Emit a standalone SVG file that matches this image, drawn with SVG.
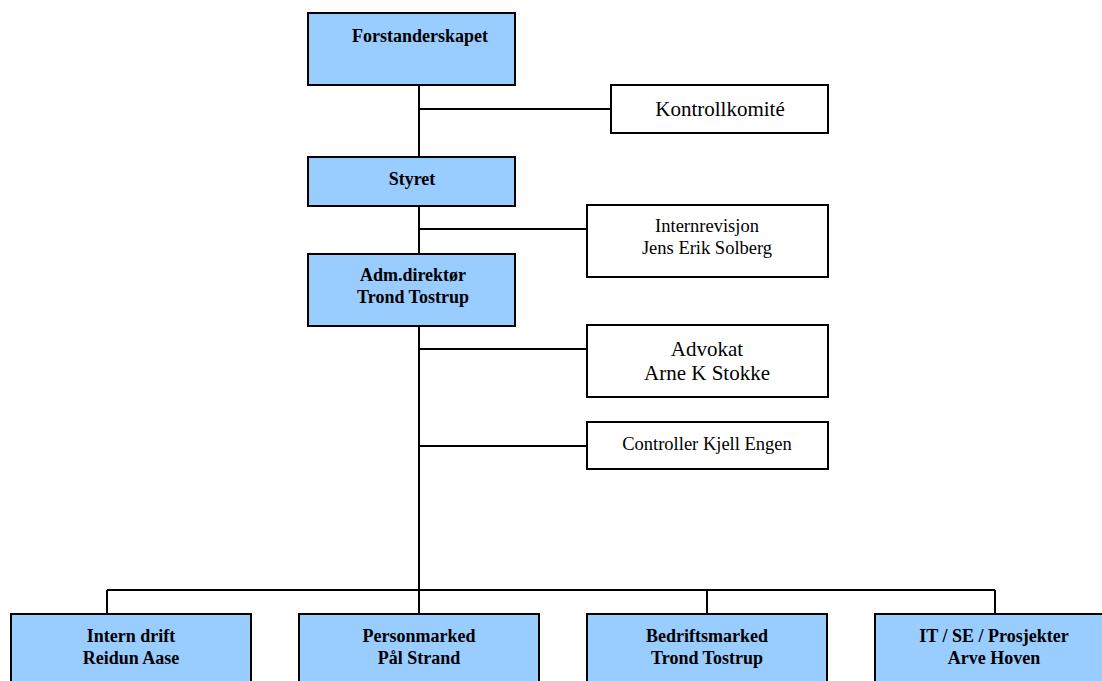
<svg xmlns="http://www.w3.org/2000/svg" width="1102" height="681" viewBox="0 0 1102 681">
<style>
.blue{fill:#99ccff;stroke:#000;stroke-width:2}
.white{fill:#fff;stroke:#000;stroke-width:2}
.b{font-family:"Liberation Serif",serif;font-weight:bold;font-size:18px;fill:#000;text-anchor:middle}
.r{font-family:"Liberation Serif",serif;font-size:18.5px;fill:#000;text-anchor:middle}
.rl{font-family:"Liberation Serif",serif;font-size:21px;fill:#000;text-anchor:middle}
.c{stroke:#000;stroke-width:2;fill:none}
</style>
<rect width="1102" height="681" fill="#fff"/>
<g id="connectors">
<path class="c" d="M419 85V157M419 206V254M419 326V614M107 590H995M107 590V614M707 590V614M995 590V614"/>
<path class="c" d="M419 109H611M419 229H587M419 349H587M419 446H587"/>
</g>
<g id="forstanderskapet">
<rect class="blue" x="308" y="13" width="207" height="72"/>
<text class="b" x="420" y="42">Forstanderskapet</text>
</g>
<g id="kontrollkomite">
<rect class="white" x="611" y="85" width="217" height="48"/>
<text class="rl" x="720" y="116">Kontrollkomité</text>
</g>
<g id="styret">
<rect class="blue" x="308" y="157" width="207" height="49"/>
<text class="b" x="412" y="185">Styret</text>
</g>
<g id="internrevisjon">
<rect class="white" x="587" y="205" width="241" height="72"/>
<text class="r" x="707" y="232">Internrevisjon</text>
<text class="r" x="707" y="254">Jens Erik Solberg</text>
</g>
<g id="adm">
<rect class="blue" x="308" y="254" width="207" height="72"/>
<text class="b" x="413" y="281">Adm.direktør</text>
<text class="b" x="413" y="303">Trond Tostrup</text>
</g>
<g id="advokat">
<rect class="white" x="587" y="325" width="241" height="72"/>
<text class="rl" x="707" y="356">Advokat</text>
<text class="rl" x="707" y="380">Arne K Stokke</text>
</g>
<g id="controller">
<rect class="white" x="587" y="422" width="241" height="47"/>
<text class="r" x="707" y="450">Controller Kjell Engen</text>
</g>
<g id="interndrift">
<rect class="blue" x="11" y="614" width="240" height="100"/>
<text class="b" x="131" y="642">Intern drift</text>
<text class="b" x="131" y="664">Reidun Aase</text>
</g>
<g id="personmarked">
<rect class="blue" x="299" y="614" width="240" height="100"/>
<text class="b" x="419" y="642">Personmarked</text>
<text class="b" x="419" y="664">Pål Strand</text>
</g>
<g id="bedriftsmarked">
<rect class="blue" x="587" y="614" width="240" height="100"/>
<text class="b" x="707" y="642">Bedriftsmarked</text>
<text class="b" x="707" y="664">Trond Tostrup</text>
</g>
<g id="it">
<rect class="blue" x="875" y="614" width="240" height="100"/>
<text class="b" x="994" y="642">IT / SE / Prosjekter</text>
<text class="b" x="994" y="664">Arve Hoven</text>
</g>
</svg>
